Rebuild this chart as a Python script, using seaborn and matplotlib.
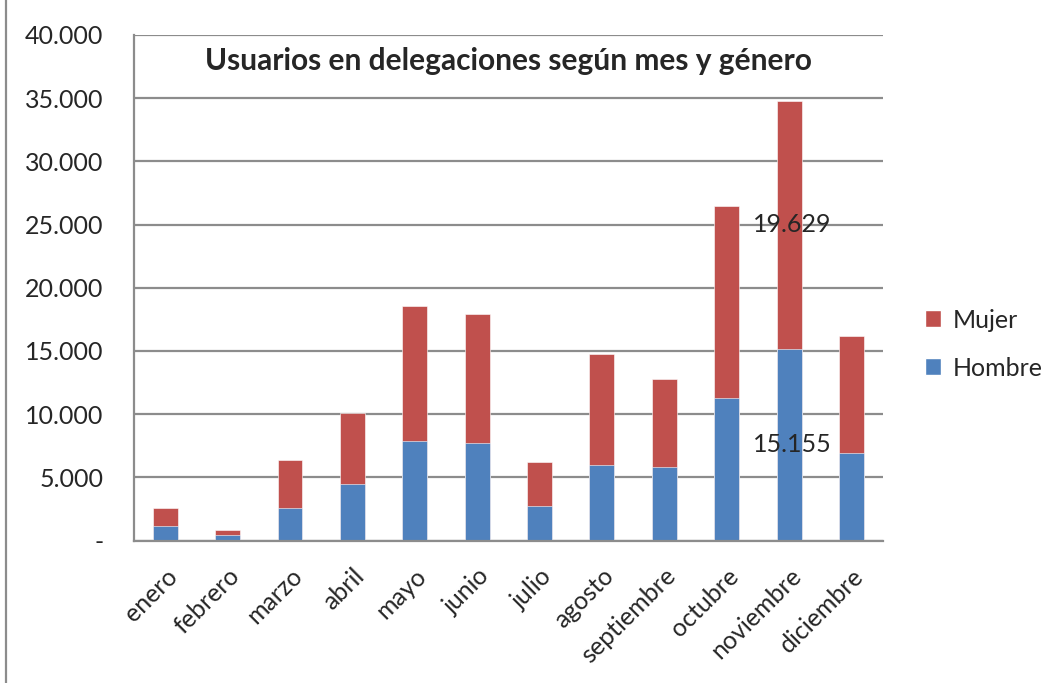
import seaborn as sns
import matplotlib.pyplot as plt
import pandas as pd
from matplotlib.ticker import FuncFormatter, FixedLocator
from matplotlib.patches import Patch
from matplotlib.lines import Line2D

meses = ["enero", "febrero", "marzo", "abril", "mayo", "junio", "julio",
         "agosto", "septiembre", "octubre", "noviembre", "diciembre"]
hombre = [1150, 400, 2600, 4450, 7900, 7700, 2700, 5950, 5800, 11300, 15155, 6900]
mujer = [1450, 450, 3750, 5600, 10650, 10250, 3500, 8800, 7000, 15150, 19629, 9250]

AZUL = "#4f81bd"
ROJO = "#c0504d"
GRIS = "#8c8c8c"
FS = 18

sns.set_style("white")
plt.rcParams["font.family"] = ["Lato", "DejaVu Sans"]

df = pd.DataFrame({"mes": meses, "Hombre": hombre, "Mujer": mujer})
df["total"] = df["Hombre"] + df["Mujer"]

fig = plt.figure(figsize=(10.5, 6.83), dpi=100)
ax = fig.add_axes([134 / 1050, 1 - 540.5 / 683, (882.7 - 134) / 1050, (540.5 - 35) / 683])

sns.barplot(data=df, x="mes", y="total", color=ROJO, width=0.4, saturation=1,
            edgecolor="white", linewidth=0.4, ax=ax)
sns.barplot(data=df, x="mes", y="Hombre", color=AZUL, width=0.4, saturation=1,
            edgecolor="white", linewidth=0.4, ax=ax)

ax.set_xlim(-0.5, len(meses) - 0.5)
ax.set_ylim(0, 40000)
ax.set_yticks(range(0, 40001, 5000))
ax.yaxis.set_major_formatter(FuncFormatter(
    lambda v, p: "-" if v == 0 else f"{int(v):,}".replace(",", ".")))
ax.yaxis.grid(True, color=GRIS, linewidth=1.6)
ax.set_axisbelow(True)
ax.set_xlabel("")
ax.set_ylabel("")

for s in ["top", "right"]:
    ax.spines[s].set_visible(False)
for s in ["left", "bottom"]:
    ax.spines[s].set_color(GRIS)
    ax.spines[s].set_linewidth(1.6)

ax.set_xticks(range(len(meses)))
ax.set_xticklabels(meses, rotation=45, ha="right", rotation_mode="anchor", fontsize=FS)
ax.tick_params(axis="x", which="major", length=0, pad=17)
ax.xaxis.set_minor_locator(FixedLocator([i - 0.5 for i in range(len(meses) + 1)]))
ax.tick_params(axis="x", which="minor", length=6, width=1.6, color=GRIS, direction="out")
ax.tick_params(axis="y", length=6, width=1.6, color=GRIS, direction="out",
               labelsize=FS, pad=16)

# etiquetas de datos de noviembre, centradas en cada segmento
i = meses.index("noviembre")
ax.text(i + 0.05, hombre[i] / 2, f"{hombre[i]:,}".replace(",", "."),
        ha="center", va="center", fontsize=FS)
ax.text(i + 0.05, hombre[i] + mujer[i] / 2, f"{mujer[i]:,}".replace(",", "."),
        ha="center", va="center", fontsize=FS)

ax.set_title("Usuarios en delegaciones según mes y género", fontsize=21.5,
             fontweight="bold", x=0.5, y=0.915)

handles = [Patch(facecolor=ROJO), Patch(facecolor=AZUL)]
fig.legend(handles, ["Mujer", "Hombre"], loc="center left",
           bbox_to_anchor=(925 / 1050, 1 - 344 / 683), frameon=False,
           fontsize=FS, handlelength=0.65, handleheight=0.65, labelspacing=1.0,
           handletextpad=0.45, borderpad=0, borderaxespad=0)

fig.add_artist(Line2D([6 / 1050, 6 / 1050], [0, 1], color=GRIS, linewidth=1.6))

fig.savefig("out.png", dpi=100)
